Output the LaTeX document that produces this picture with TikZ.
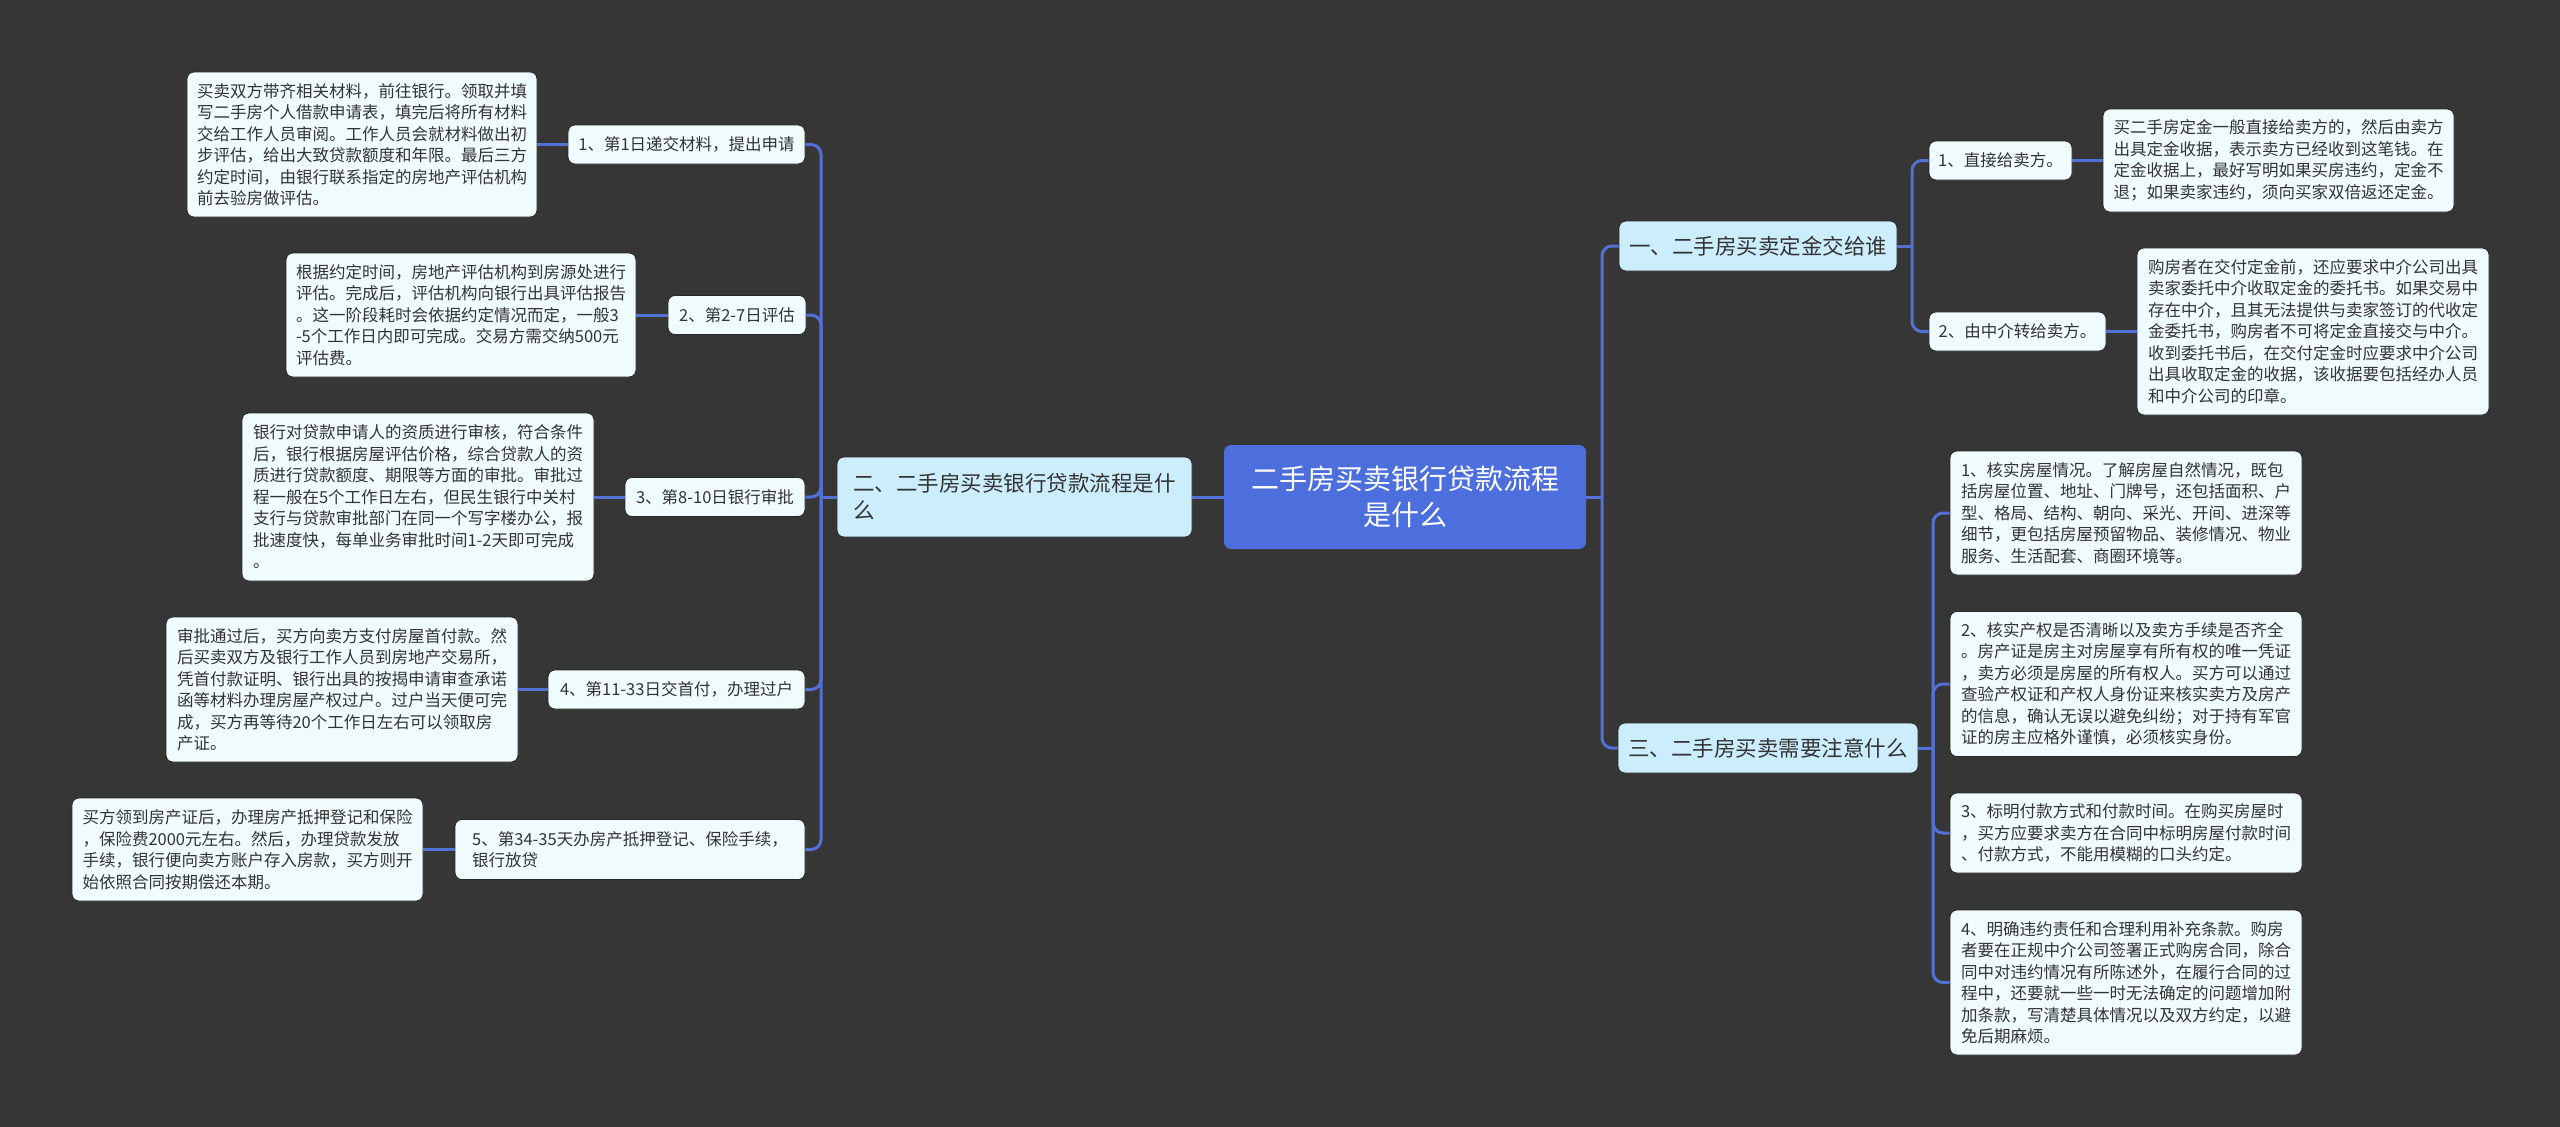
\documentclass[tikz,border=0pt]{standalone}
\usepackage{fontspec}
\setmainfont{Noto Sans CJK SC}
\definecolor{bgc}{HTML}{373636}
\definecolor{lineblue}{HTML}{5270D6}
\definecolor{rootfill}{HTML}{4D6FDD}
\definecolor{branchfill}{HTML}{CCEEFC}
\definecolor{leaffill}{HTML}{F0FBFE}
\definecolor{textc}{HTML}{333333}
\definecolor{edgec}{HTML}{262626}
\tikzset{
  conn/.style={draw=lineblue, line width=3pt},
  rconn/.style={conn, rounded corners=10pt},
  box/.style={rectangle, rounded corners=7pt, draw=edgec, line width=0.8pt, inner sep=0pt, text=textc},
  leaf/.style={box, fill=leaffill, align=left, font=\fontsize{16.5}{21.5}\selectfont},
  sublab/.style={leaf},
  branch/.style={box, fill=branchfill, align=left, font=\fontsize{21.5}{27}\selectfont},
  rootnode/.style={box, draw=none, fill=rootfill, text=white, align=center, font=\fontsize{28}{36}\selectfont},
}
\begin{document}
\begin{tikzpicture}[x=1pt, y=-1pt]
\fill[bgc] (0,0) rectangle (2560,1127);
\useasboundingbox (0,0) rectangle (2560,1127);

% junctions
\coordinate (jl) at (821,497);
\coordinate (jr) at (1602,497);
\coordinate (j1) at (1912,246);
\coordinate (j3) at (1933,748);

% root and branches
\node[rootnode, minimum width=362pt, minimum height=104pt] (root) at (1405,497) {二手房买卖银行贷款流程\\是什么};
\node[branch, minimum width=355pt, minimum height=80pt] (b2) at (1014.5,497) {二、二手房买卖银行贷款流程是什\\么};
\node[branch, minimum width=278pt, minimum height=50pt] (b1) at (1758,246) {一、二手房买卖定金交给谁};
\node[branch, minimum width=300pt, minimum height=50pt] (b3) at (1768,748) {三、二手房买卖需要注意什么};

% left side labels
\node[sublab, minimum width=237pt, minimum height=39pt] (l1) at (686.5,144.5) {1、第1日递交材料，提出申请};
\node[sublab, minimum width=138pt, minimum height=39pt] (l2) at (737,315) {2、第2-7日评估};
\node[sublab, minimum width=180pt, minimum height=39pt] (l3) at (715,497) {3、第8-10日银行审批};
\node[sublab, minimum width=257pt, minimum height=39pt] (l4) at (676.5,689.5) {4、第11-33日交首付，办理过户};
\node[sublab, minimum width=350pt, minimum height=60pt] (l5) at (630,849.5) {5、第34-35天办房产抵押登记、保险手续，\\银行放贷};

% left side details
\node[leaf, minimum width=350pt, minimum height=145pt] (d1) at (362,144.5) {买卖双方带齐相关材料，前往银行。领取并填\\写二手房个人借款申请表，填完后将所有材料\\交给工作人员审阅。工作人员会就材料做出初\\步评估，给出大致贷款额度和年限。最后三方\\约定时间，由银行联系指定的房地产评估机构\\前去验房做评估。};
\node[leaf, minimum width=350pt, minimum height=124pt] (d2) at (461,315) {根据约定时间，房地产评估机构到房源处进行\\评估。完成后，评估机构向银行出具评估报告\\。这一阶段耗时会依据约定情况而定，一般3\\-5个工作日内即可完成。交易方需交纳500元\\评估费。};
\node[leaf, minimum width=352pt, minimum height=168pt] (d3) at (418,497) {银行对贷款申请人的资质进行审核，符合条件\\后，银行根据房屋评估价格，综合贷款人的资\\质进行贷款额度、期限等方面的审批。审批过\\程一般在5个工作日左右，但民生银行中关村\\支行与贷款审批部门在同一个写字楼办公，报\\批速度快，每单业务审批时间1-2天即可完成\\。};
\node[leaf, minimum width=352pt, minimum height=145pt] (d4) at (342,689.5) {审批通过后，买方向卖方支付房屋首付款。然\\后买卖双方及银行工作人员到房地产交易所，\\凭首付款证明、银行出具的按揭申请审查承诺\\函等材料办理房屋产权过户。过户当天便可完\\成，买方再等待20个工作日左右可以领取房\\产证。};
\node[leaf, minimum width=351pt, minimum height=103pt] (d5) at (247.5,849.5) {买方领到房产证后，办理房产抵押登记和保险\\，保险费2000元左右。然后，办理贷款发放\\手续，银行便向卖方账户存入房款，买方则开\\始依照合同按期偿还本期。};

% right top
\node[sublab, minimum width=143pt, minimum height=39pt] (r1) at (2000.5,160.5) {1、直接给卖方。};
\node[sublab, minimum width=177pt, minimum height=39pt] (r2) at (2017.5,331.5) {2、由中介转给卖方。};
\node[leaf, minimum width=351pt, minimum height=103pt] (r1d) at (2278.5,160.5) {买二手房定金一般直接给卖方的，然后由卖方\\出具定金收据，表示卖方已经收到这笔钱。在\\定金收据上，最好写明如果买房违约，定金不\\退；如果卖家违约，须向买家双倍返还定金。};
\node[leaf, minimum width=352pt, minimum height=167pt] (r2d) at (2313,331.5) {购房者在交付定金前，还应要求中介公司出具\\卖家委托中介收取定金的委托书。如果交易中\\存在中介，且其无法提供与卖家签订的代收定\\金委托书，购房者不可将定金直接交与中介。\\收到委托书后，在交付定金时应要求中介公司\\出具收取定金的收据，该收据要包括经办人员\\和中介公司的印章。};

% right bottom
\node[leaf, minimum width=352pt, minimum height=124pt] (n1) at (2126,513) {1、核实房屋情况。了解房屋自然情况，既包\\括房屋位置、地址、门牌号，还包括面积、户\\型、格局、结构、朝向、采光、开间、进深等\\细节，更包括房屋预留物品、装修情况、物业\\服务、生活配套、商圈环境等。};
\node[leaf, minimum width=352pt, minimum height=145pt] (n2) at (2126,684) {2、核实产权是否清晰以及卖方手续是否齐全\\。房产证是房主对房屋享有所有权的唯一凭证\\，卖方必须是房屋的所有权人。买方可以通过\\查验产权证和产权人身份证来核实卖方及房产\\的信息，确认无误以避免纠纷；对于持有军官\\证的房主应格外谨慎，必须核实身份。};
\node[leaf, minimum width=352pt, minimum height=80pt] (n3) at (2126,833) {3、标明付款方式和付款时间。在购买房屋时\\，买方应要求卖方在合同中标明房屋付款时间\\、付款方式，不能用模糊的口头约定。};
\node[leaf, minimum width=352pt, minimum height=145pt] (n4) at (2126,982.5) {4、明确违约责任和合理利用补充条款。购房\\者要在正规中介公司签署正式购房合同，除合\\同中对违约情况有所陈述外，在履行合同的过\\程中，还要就一些一时无法确定的问题增加附\\加条款，写清楚具体情况以及双方约定，以避\\免后期麻烦。};

% connectors
\draw[conn] (root.west) -- (b2.east);
\draw[conn] (b2.west) -- (jl);
\foreach \n in {l1,l2,l3,l4,l5} { \draw[rconn] (jl) |- (\n.east); }
\draw[conn] (l1.west) -- (d1.east);
\draw[conn] (l2.west) -- (d2.east);
\draw[conn] (l3.west) -- (d3.east);
\draw[conn] (l4.west) -- (d4.east);
\draw[conn] (l5.west) -- (d5.east);

\draw[conn] (root.east) -- (jr);
\draw[rconn] (jr) |- (b1.west);
\draw[rconn] (jr) |- (b3.west);

\draw[conn] (b1.east) -- (j1);
\draw[rconn] (j1) |- (r1.west);
\draw[rconn] (j1) |- (r2.west);
\draw[conn] (r1.east) -- (r1d.west);
\draw[conn] (r2.east) -- (r2d.west);

\draw[conn] (b3.east) -- (j3);
\foreach \n in {n1,n2,n3,n4} { \draw[rconn] (j3) |- (\n.west); }
\end{tikzpicture}
\end{document}
